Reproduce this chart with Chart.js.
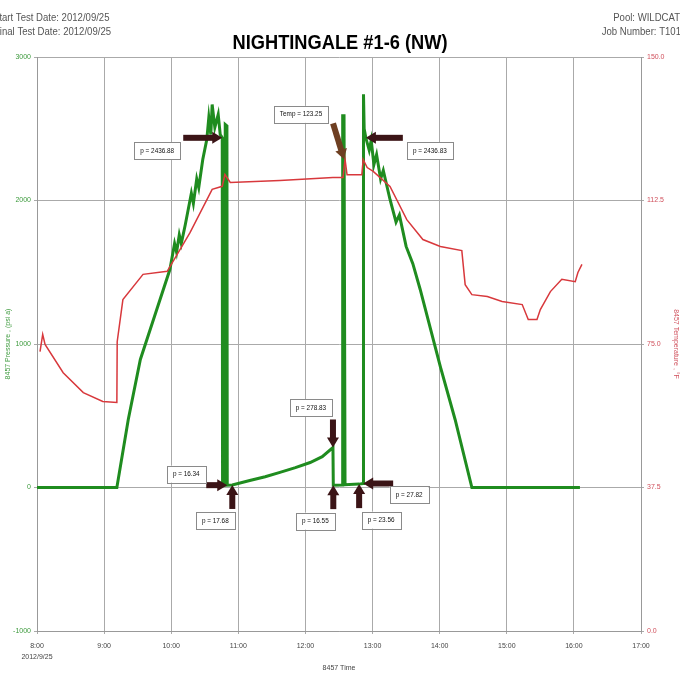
<!DOCTYPE html>
<html>
<head>
<meta charset="utf-8">
<script src="https://cdn.jsdelivr.net/npm/chart.js@4.4.0/dist/chart.umd.min.js"></script>
<style>
  html, body { margin: 0; padding: 0; background: #fff; }
  canvas { display: block; }
</style>
</head>
<body>
<canvas id="mainChart" width="680" height="675"></canvas>
<script>
// time in hours of day, pressure in psia (left axis)
const pressureTime = [8.00, 9.19, 9.36, 9.54, 9.76, 9.98, 10.05, 10.08, 10.12, 10.15, 10.21, 10.30, 10.33, 10.38, 10.41, 10.47,
  10.53, 10.56, 10.59, 10.61, 10.65, 10.70, 10.73, 10.76, 10.765, 10.80, 10.805, 10.83, 10.835, 10.91,
  11.17, 11.40, 11.62, 11.85, 12.07, 12.25, 12.41, 12.415, 12.55, 12.555, 12.575, 12.59, 12.80, 12.86, 12.865, 12.875, 12.90,
  12.95, 12.98, 13.02, 13.06, 13.12, 13.16, 13.26, 13.35, 13.40, 13.50, 13.60, 13.71, 14.01, 14.23, 14.48, 16.09];
const pressureValue = [0, 0, 474, 892, 1206, 1519, 1700, 1640, 1760, 1700, 1833, 2050, 1980, 2150, 2090, 2286,
  2425, 2578, 2460, 2669, 2509, 2599, 2460, 2437, 15, 15, 2530, 2520, 16.34, 17.68,
  49, 75, 105, 138, 174, 215, 278.83, 16.55, 17, 2590, 2590, 20, 23.56, 27.82, 2740, 2500, 2437,
  2350, 2420, 2250, 2320, 2150, 2210, 2007, 1850, 1900, 1680, 1560, 1380, 843, 474, 0, 0];

// temperature in deg F (right axis)
const tempTime = [8.045, 8.085, 8.12, 8.39, 8.69, 8.98, 9.19, 9.195, 9.28, 9.58, 9.94, 10.28, 10.61, 10.76, 10.80, 10.88,
  11.62, 12.41, 12.56, 12.59, 12.62, 12.84, 12.86, 12.92, 13.01, 13.26, 13.51, 13.75, 14.01, 14.33, 14.38, 14.48,
  14.71, 14.93, 15.23, 15.32, 15.45, 15.50, 15.65, 15.82, 16.02, 16.06, 16.12];
const tempValue = [73.0, 77.5, 74.9, 67.5, 62.3, 60.0, 59.7, 75.6, 86.6, 93.2, 94.0, 104.1, 115.4, 116.2, 119.3, 117.2,
  117.7, 118.5, 118.5, 123.25, 119.2, 119.2, 123.2, 121.1, 120.1, 116.2, 107.5, 102.3, 100.5, 99.4, 90.5, 87.9,
  87.4, 86.1, 85.3, 81.4, 81.4, 84.0, 88.7, 91.9, 91.3, 93.7, 95.8];

const dateLabel = '2012/9/25';

// annotation callouts
const noteText = ['p = 2436.88', 'Temp = 123.25', 'p = 2436.83', 'p = 16.34', 'p = 17.68', 'p = 278.83', 'p = 16.55', 'p = 23.56', 'p = 27.82'];
const noteTime = [10.76, 12.575, 12.90, 10.835, 10.91, 12.41, 12.415, 12.80, 12.86];
const noteValue = [2436.88, 123.25, 2436.83, 16.34, 17.68, 278.83, 16.55, 23.56, 27.82];
const noteAxis = ['y', 'y2', 'y', 'y', 'y', 'y', 'y', 'y', 'y'];
// arrow tail offset and box centre offset from the tip (px)
const noteTail = [[-39, 0], [-11, -36], [37, 0], [-21, 0], [0, 24], [0, -28], [0, 24], [0, 24], [30, 0]];
const noteBox = [[-65, 13], [-43, -45], [64, 13], [-41, -11], [-17, 36], [-22, -40], [-18, 36], [22, 36], [46, 11]];

const FONT = '"Liberation Sans", Arial, sans-serif';

function narrowText(ctx, text, x, y, align, sx) {
  ctx.save();
  ctx.translate(x, y);
  ctx.scale(sx, 1);
  ctx.textAlign = align;
  ctx.fillText(text, 0, 0);
  ctx.restore();
}

function drawArrow(ctx, x0, y0, x1, y1, color) {
  const ang = Math.atan2(y1 - y0, x1 - x0);
  const len = Math.hypot(x1 - x0, y1 - y0);
  ctx.save();
  ctx.translate(x0, y0);
  ctx.rotate(ang);
  ctx.fillStyle = color;
  ctx.fillRect(0, -3, len - 8, 6);
  ctx.beginPath();
  ctx.moveTo(len, 0);
  ctx.lineTo(len - 10, -6);
  ctx.lineTo(len - 10, 6);
  ctx.closePath();
  ctx.fill();
  ctx.restore();
}

const headerPlugin = {
  id: 'header',
  afterDraw(chart) {
    const ctx = chart.ctx;
    ctx.save();
    ctx.fillStyle = '#555';
    ctx.font = '11px ' + FONT;
    ctx.textBaseline = 'middle';
    narrowText(ctx, 'Start Test Date: 2012/09/25', -7, 18, 'left', 0.87);
    narrowText(ctx, 'Final Test Date: 2012/09/25', -6, 32, 'left', 0.87);
    narrowText(ctx, 'Pool: WILDCAT', 680, 18, 'right', 0.87);
    narrowText(ctx, 'Job Number: T101', 681, 32, 'right', 0.87);

    ctx.fillStyle = '#000';
    ctx.font = 'bold 21px ' + FONT;
    const w = ctx.measureText('NIGHTINGALE #1-6 (NW)').width;
    narrowText(ctx, 'NIGHTINGALE #1-6 (NW)', 340, 43, 'center', 215 / w);
    ctx.restore();
  }
};

const notesPlugin = {
  id: 'notes',
  afterDatasetsDraw(chart) {
    const ctx = chart.ctx;
    const xs = chart.scales.x;
    ctx.save();
    noteText.forEach((text, i) => {
      const ys = chart.scales[noteAxis[i]];
      const tx = xs.getPixelForValue(noteTime[i]);
      const ty = ys.getPixelForValue(noteValue[i]);
      const color = noteAxis[i] === 'y2' ? '#6e3f22' : '#3b1416';
      drawArrow(ctx, tx + noteTail[i][0], ty + noteTail[i][1], tx, ty, color);

      ctx.font = '7.5px ' + FONT;
      const bw = ctx.measureText(text).width * 0.85 + 12;
      const bh = 17;
      const cx = tx + noteBox[i][0];
      const cy = ty + noteBox[i][1];
      ctx.fillStyle = '#fff';
      ctx.fillRect(cx - bw / 2, cy - bh / 2, bw, bh);
      ctx.strokeStyle = '#8a8a8a';
      ctx.lineWidth = 1;
      ctx.strokeRect(Math.round(cx - bw / 2) + 0.5, Math.round(cy - bh / 2) + 0.5, Math.round(bw), bh);
      ctx.fillStyle = '#111';
      ctx.textBaseline = 'middle';
      narrowText(ctx, text, cx, cy, 'center', 0.85);
    });
    ctx.restore();
  }
};

const ctx = document.getElementById('mainChart').getContext('2d');
const nightingaleChart = new Chart(ctx, {
  type: 'line',
  data: {
    datasets: [{
      label: '8457 Temperature',
      data: tempTime.map((t, i) => ({ x: t, y: tempValue[i] })),
      yAxisID: 'y2',
      borderColor: '#d8383c',
      borderWidth: 1.5,
      pointRadius: 0,
      tension: 0,
      order: 0
    }, {
      label: '8457 Pressure',
      data: pressureTime.map((t, i) => ({ x: t, y: pressureValue[i] })),
      yAxisID: 'y',
      borderColor: '#1f8c1f',
      borderWidth: 3,
      pointRadius: 0,
      tension: 0,
      order: 1
    }]
  },
  options: {
    responsive: false,
    animation: false,
    layout: { padding: { top: 57, left: 0, right: 0, bottom: 0 } },
    plugins: {
      legend: { display: false },
      tooltip: { enabled: false }
    },
    scales: {
      x: {
        type: 'linear',
        min: 8,
        max: 17,
        afterFit: s => { s.height = 44; },
        border: { color: '#999' },
        grid: { color: '#aaa', tickLength: 3 },
        ticks: {
          stepSize: 1,
          color: '#444',
          padding: 6,
          maxRotation: 0,
          font: { size: 7, family: FONT, lineHeight: 1.6 },
          callback: v => v === 8 ? ['8:00', dateLabel] : v + ':00'
        },
        title: {
          display: true,
          text: '8457 Time',
          color: '#444',
          font: { size: 7, family: FONT },
          padding: { top: 0, bottom: 3 }
        }
      },
      y: {
        position: 'left',
        min: -1000,
        max: 3000,
        afterFit: s => { s.width = 37; },
        border: { color: '#999' },
        grid: { color: '#aaa', tickLength: 3 },
        ticks: {
          stepSize: 1000,
          color: '#3d9a3d',
          padding: 3,
          font: { size: 7, family: FONT },
          callback: v => String(v)
        },
        title: {
          display: true,
          text: '8457 Pressure , (psi a)',
          color: '#3d9a3d',
          font: { size: 7, family: FONT },
          padding: { top: 4, bottom: 0 }
        }
      },
      y2: {
        position: 'right',
        min: 0,
        max: 150,
        afterFit: s => { s.width = 39; },
        border: { color: '#999' },
        grid: { drawOnChartArea: false, color: '#aaa', tickLength: 3 },
        ticks: {
          stepSize: 37.5,
          color: '#d0505c',
          padding: 3,
          font: { size: 7, family: FONT },
          callback: v => v.toFixed(1)
        },
        title: {
          display: true,
          text: '8457 Temperature , °F',
          color: '#d0505c',
          font: { size: 7, family: FONT },
          padding: { top: 0, bottom: 6 }
        }
      }
    }
  },
  plugins: [notesPlugin, headerPlugin]
});
</script>
</body>
</html>
